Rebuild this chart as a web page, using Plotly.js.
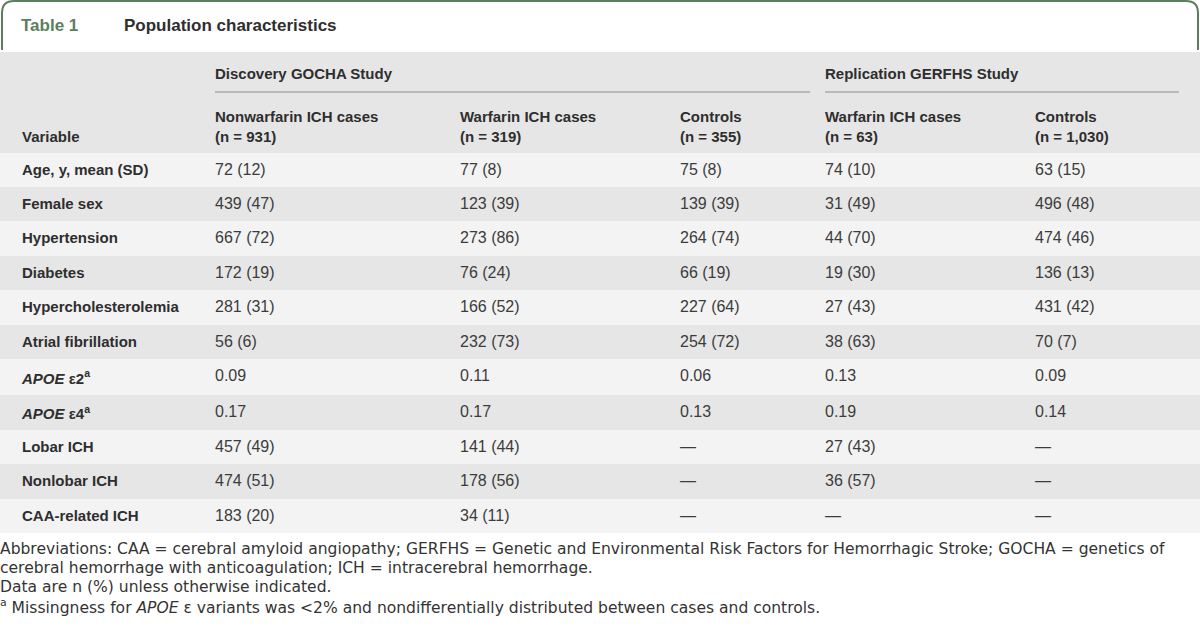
<!DOCTYPE html>
<html>
<head>
<meta charset="utf-8">
<script src="https://cdn.plot.ly/plotly-3.0.1.min.js"></script>
<style>
  body { margin: 0; background: #fff; }
  #table1 { width: 1200px; height: 635px; }
</style>
</head>
<body>
<div id="table1"></div>
<script>
const variables = [
    "Age, y, mean (SD)", "Female sex", "Hypertension", "Diabetes",
    "Hypercholesterolemia", "Atrial fibrillation",
    "<i>APOE</i> ε2<sup>a</sup>", "<i>APOE</i> ε4<sup>a</sup>",
    "Lobar ICH", "Nonlobar ICH", "CAA-related ICH"
];
const gochaNonwarfarin = ["72 (12)", "439 (47)", "667 (72)", "172 (19)", "281 (31)", "56 (6)", "0.09", "0.17", "457 (49)", "474 (51)", "183 (20)"];
const gochaWarfarin = ["77 (8)", "123 (39)", "273 (86)", "76 (24)", "166 (52)", "232 (73)", "0.11", "0.17", "141 (44)", "178 (56)", "34 (11)"];
const gochaControls = ["75 (8)", "139 (39)", "264 (74)", "66 (19)", "227 (64)", "254 (72)", "0.06", "0.13", "—", "—", "—"];
const gerfhsWarfarin = ["74 (10)", "31 (49)", "44 (70)", "19 (30)", "27 (43)", "38 (63)", "0.13", "0.19", "27 (43)", "36 (57)", "—"];
const gerfhsControls = ["63 (15)", "496 (48)", "474 (46)", "136 (13)", "431 (42)", "70 (7)", "0.09", "0.14", "—", "—", "—"];

const columnHeaders = [
    "", "|Variable",
    "Nonwarfarin ICH cases|(n = 931)", "Warfarin ICH cases|(n = 319)", "Controls|(n = 355)",
    "Warfarin ICH cases|(n = 63)", "Controls|(n = 1,030)"
];
const studyGroups = ["Discovery GOCHA Study", "Replication GERFHS Study"];

const footnotes = [
    "Abbreviations: CAA = cerebral amyloid angiopathy; GERFHS = Genetic and Environmental Risk Factors for Hemorrhagic Stroke; GOCHA = genetics of",
    "cerebral hemorrhage with anticoagulation; ICH = intracerebral hemorrhage.",
    "Data are n (%) unless otherwise indicated.",
    "<sup>a</sup> Missingness for <i>APOE</i> ε variants was &lt;2% and nondifferentially distributed between cases and controls."
];

const W = 1200, H = 635;
const X = px => px / W;
const Y = px => 1 - px / H;

const green = "#5b7f5e";
const dark = "#2e2e2e";
const valueColor = "#3c3c3c";
const headGray = "#e6e6e6";
const rowFills = variables.map((v, i) => i % 2 === 0 ? "#f3f3f3" : "#e6e6e6");

// header lines split on "|", empty line kept with a non-breaking space
const bold = s => s.split("|").map(p => p ? "<b>" + p + "</b>" : "&nbsp;").join("<br>");
const wrap = arr => arr.map(v => "<span>" + v + "</span>");

const trace = {
    type: "table",
    domain: {x: [0, 1], y: [0.05, Y(100)]},
    columnwidth: [14, 193, 245, 220, 145, 210, 173],
    header: {
        values: columnHeaders.map(h => h ? bold(h) : ""),
        align: "left",
        height: 52,
        fill: {color: headGray},
        line: {width: 0, color: headGray},
        font: {family: "Liberation Sans, Arial, sans-serif", size: 15, color: dark}
    },
    cells: {
        values: [
            variables.map(() => ""),
            variables.map(v => "<b>" + v + "</b>"),
            wrap(gochaNonwarfarin), wrap(gochaWarfarin), wrap(gochaControls),
            wrap(gerfhsWarfarin), wrap(gerfhsControls)
        ],
        align: "left",
        height: 34.45,
        fill: {color: columnHeaders.map(() => rowFills)},
        line: {width: 0, color: "rgba(0,0,0,0)"},
        font: {
            family: "Liberation Sans, Arial, sans-serif",
            size: [15, 15, 16, 16, 16, 16, 16],
            color: [dark, dark, valueColor, valueColor, valueColor, valueColor, valueColor]
        }
    }
};

const shapes = [
    // title box
    {
        type: "path", xref: "paper", yref: "paper",
        path: `M ${X(2)},${Y(50)} L ${X(2)},${Y(13)} Q ${X(2)},${Y(1)} ${X(14)},${Y(1)} ` +
              `L ${X(1186)},${Y(1)} Q ${X(1198)},${Y(1)} ${X(1198)},${Y(13)} L ${X(1198)},${Y(50)}`,
        line: {color: green, width: 2}
    },
    // study group band
    {type: "rect", xref: "paper", yref: "paper", x0: 0, x1: 1, y0: Y(100), y1: Y(52),
        fillcolor: headGray, line: {width: 0}, layer: "below"},
    {type: "line", xref: "paper", yref: "paper", x0: X(215), x1: X(810), y0: Y(92), y1: Y(92),
        line: {color: "#8c8c8c", width: 1}},
    {type: "line", xref: "paper", yref: "paper", x0: X(825), x1: X(1179), y0: Y(92), y1: Y(92),
        line: {color: "#8c8c8c", width: 1}}
];

const note = (text, x, y, size, color, family) => ({
    text: text, x: X(x), y: Y(y), xref: "paper", yref: "paper",
    xanchor: "left", yanchor: "middle", showarrow: false, align: "left",
    font: {family: family || "Liberation Sans, Arial, sans-serif", size: size, color: color}
});

const annotations = [
    note("<b>Table 1</b>", 19, 25, 17, green),
    note("<b>Population characteristics</b>", 122, 25, 17, dark),
    note("<b>" + studyGroups[0] + "</b>", 213, 73, 15, dark),
    note("<b>" + studyGroups[1] + "</b>", 823, 73, 15, dark)
];
footnotes.forEach((t, i) => annotations.push(note(t, -2, 549 + i * 19, 15.55, "#333", "DejaVu Sans, sans-serif")));

const layout = {
    width: W,
    height: H,
    margin: {t: 0, r: 0, b: 0, l: 0},
    paper_bgcolor: "#fff",
    shapes: shapes,
    annotations: annotations
};

Plotly.newPlot("table1", [trace], layout, {displayModeBar: false, staticPlot: true});
</script>
</body>
</html>
